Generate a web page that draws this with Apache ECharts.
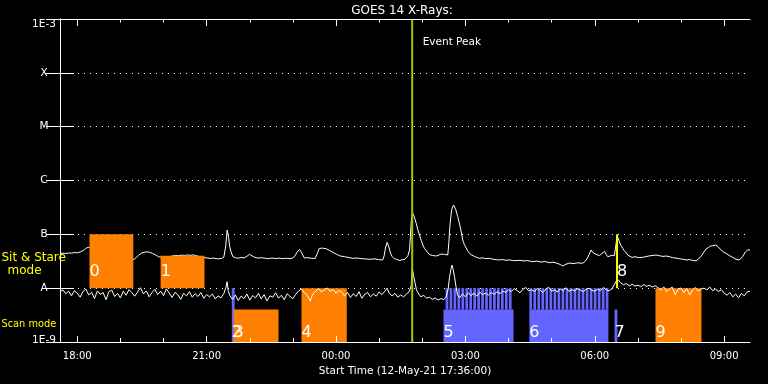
<!DOCTYPE html>
<html><head><meta charset="utf-8">
<script src="https://cdn.jsdelivr.net/npm/echarts@6/dist/echarts.min.js"></script>
<style>html,body{margin:0;padding:0;background:#000;}#c{width:768px;height:384px;}</style>
</head><body><div id="c"></div>
<script>
// ================= DATA =================
const chartTitle = 'GOES 14 X-Rays:';
const xAxisName = 'Start Time (12-May-21 17:36:00)';
const xMax = 960; // minutes after start time
const xMajorTicks = [24, 204, 384, 564, 744, 924];
const xTickLabels = ['18:00', '21:00', '00:00', '03:00', '06:00', '09:00'];
const xMinorTicks = [24, 84, 144, 204, 264, 324, 384, 444, 504, 564, 624, 684, 744, 804, 864, 924];
const yTickLabels = ['1E-9', 'A', 'B', 'C', 'M', 'X', '1E-3'];
const sitStareText = ['Sit & Stare', 'mode'];
const scanModeText = 'Scan mode';

// long channel flux, [minutes after start, flux in 1e-9 W/m^2]
const longFlux = [[0,43.5],[4,44.8],[8,43.9],[12,45.2],[16,44.6],[20,46.0],[24,45.3],[28,47.1],[31,49],[34,52],[37,56],[40,57.5],[43,56.5],[47,51],[52,47],[58,43.5],[64,41],[70,39.5],[78,38.2],[86,36.5],[94,35.8],[100,34.6],[103,34.4],[106,37],[109,40.5],[113,44.5],[117,46.5],[121,47.2],[125,46.4],[129,44],[133,41.5],[137,38.5],[141,37.2],[145,38],[149,37.4],[153,38.6],[157,39.8],[161,40.6],[165,40.1],[169,41.2],[173,40.4],[177,41.3],[181,40.7],[185,41.5],[189,40.2],[193,39],[197,38],[201,37],[205,36.3],[209,35.7],[213,36.2],[217,35.4],[221,35.1],[225,35.8],[228,38],[230.5,60],[232.5,120],[234.5,88],[236,60],[238,47],[240.5,38.5],[244,36.8],[248,36],[252,37.2],[256,36.4],[260,39],[263.5,42.6],[267,40],[270.7,37.6],[275,36.2],[280,36.9],[285,36],[290,35.4],[295,36.3],[300,35.5],[305,36.1],[310,35.3],[315,36],[320,35.2],[324,36.4],[327,40],[330,47],[333.3,52.5],[336,46],[340,36.4],[345,36.8],[350,35.9],[355,35.5],[358,44],[360.5,54.5],[365,55.5],[370.4,54],[375,50],[380,46],[384.3,43],[390,39.5],[396,38.5],[402,37],[407.4,35.9],[413,36.3],[419,35.4],[425,34.9],[431,34.4],[437,35],[443,34],[449,33.4],[451,40],[453,58],[455.2,71],[457.5,58],[460,44],[462,39],[465,35.5],[468,34.4],[472,32.8],[476,33.6],[480,34.5],[482,36],[484,40],[486.3,51],[487.5,90],[488.5,160],[490,252],[492,230],[494,190],[495.6,160],[498,120],[500.2,97],[502.5,78],[504.8,63.4],[507,55],[509.9,49],[512,45],[514.1,42],[518,40.5],[523.4,39.6],[527,41],[530,43],[532.6,44.4],[535,42.5],[537,41],[539.5,41.3],[541,70],[542,120],[543.5,200],[545,290],[547.5,351],[550.2,300],[553.4,213],[557.2,131],[560.4,78.5],[562.5,65],[565.1,56],[567,50],[569.7,44.4],[573,41],[576.7,38.8],[580,37.2],[583.6,35.9],[588,36.6],[592,35.4],[597.5,35.9],[602,34.6],[607,33.8],[611.4,33.4],[616,34],[620,32.9],[625,33.5],[630,32.6],[634.6,32.4],[640,33],[645,32],[650,32.6],[657.7,31],[663,31.8],[669,30.6],[675,31.2],[680.9,29.7],[686,30.4],[691,29.2],[696,27.5],[699.4,25.8],[703,27.5],[708.7,29.3],[714,28.6],[720,29.5],[727.2,29],[731,32],[733.8,36.4],[736,42],[738.9,51.2],[741.5,46],[744.9,43],[747,40],[750.5,40.3],[754,44],[757.5,48.5],[760,42],[762,38.5],[765,39.5],[768,41],[771.4,40.3],[773.4,63.4],[775.1,94],[777,82],[778.3,72],[780.5,62],[782.9,55],[785,50],[788,45],[790,41],[792.2,38.5],[796,37.2],[800,38.4],[805,37],[810.7,37.4],[815,38.5],[820,39.8],[825,40.5],[829.3,41.3],[834,40],[839,38.9],[843,39.6],[847.8,38.5],[852,37],[857,36.2],[862,35.1],[866,34.5],[871,33.4],[876,34],[880,32.8],[884.9,32.2],[888,34.5],[892.3,39.6],[895,45],[898.8,53.4],[902,57],[904.8,60],[908,61.5],[912.7,63.4],[916,58],[919.7,51.2],[923,47],[926.6,44.4],[931,40.5],[935.8,37.4],[940.5,34.4],[945.1,33.4],[947,36],[949.7,38.5],[953.5,47],[956.6,51.2],[960,51.2]];

// short channel flux, [minutes after start, flux in 1e-9 W/m^2]
const shortFlux = [[0,8.6],[4,9.3],[8,7.9],[12,8.8],[16,7.2],[20,9.0],[24,8.1],[28,6.8],[32,8.7],[36,9.6],[40,7.5],[44,8.4],[48,6.4],[52,8.9],[56,7.7],[60,8.3],[64,6.1],[68,8.6],[72,9.2],[76,7.0],[80,8.0],[84,6.6],[88,8.8],[92,7.4],[96,9.4],[100,8.2],[104,7.1],[108,8.5],[112,10.2],[116,7.8],[120,8.9],[124,6.9],[128,8.3],[132,9.5],[136,7.6],[140,8.8],[144,7.3],[148,9.7],[152,8.1],[156,6.7],[160,8.4],[164,7.5],[168,6.2],[172,8.0],[176,7.2],[180,8.6],[184,6.8],[188,7.9],[192,7.0],[196,8.3],[200,6.5],[204,7.6],[208,6.9],[212,7.8],[216,6.3],[220,7.2],[224,6.6],[228,8.0],[231,10.5],[232.5,13.2],[234,9.0],[236,7.4],[240,6.2],[244,7.5],[248,5.9],[252,7.1],[256,6.4],[260,7.8],[264,6.0],[268,7.3],[272,6.6],[276,8.0],[280,6.3],[284,7.6],[288,5.8],[292,7.2],[296,6.8],[300,8.2],[304,6.5],[308,7.4],[312,6.1],[316,7.9],[320,7.0],[324,6.4],[328,7.7],[332,8.9],[336,9.6],[340,8.2],[344,7.4],[348,5.8],[352,7.9],[356,8.8],[360,9.8],[364,8.5],[368,9.3],[372,10.1],[376,8.7],[380,9.5],[384,8.0],[388,9.1],[392,8.4],[396,7.2],[400,8.4],[404,6.7],[408,7.9],[412,7.0],[416,8.6],[420,6.5],[424,7.7],[428,8.3],[432,6.9],[436,7.8],[440,7.1],[444,8.5],[448,7.6],[452,8.8],[455,10.0],[458,8.1],[462,7.2],[466,8.0],[470,6.8],[474,7.5],[478,6.9],[482,7.8],[486,8.6],[488.5,11],[490,23.4],[492,17],[494,12.5],[496,9.3],[499,7.8],[502,6.9],[506,7.4],[510,6.5],[514,6.8],[518,6.2],[522,6.6],[526,6.0],[530,6.4],[534,6.1],[537,6.9],[540,9.5],[542,16.3],[544,23],[545.5,26.9],[547,22],[549,16],[551,10.5],[553,7.5],[556,6.6],[560,7.8],[564,6.9],[568,8.2],[572,7.3],[576,8.0],[580,7.1],[584,8.4],[588,7.6],[592,8.1],[596,7.4],[600,8.3],[604,7.7],[608,8.6],[612,7.9],[616,8.8],[620,8.4],[624,9.3],[628,8.7],[632,9.8],[636,9.0],[640,8.2],[644,9.5],[648,10.3],[652,8.9],[656,9.4],[660,8.6],[664,9.9],[668,9.1],[672,8.3],[676,9.6],[680,10.4],[684,8.8],[688,9.3],[692,8.5],[696,9.7],[700,9.0],[704,10.2],[708,8.7],[712,9.4],[716,8.9],[720,9.8],[724,9.2],[728,8.6],[732,9.5],[736,10.0],[740,9.1],[744,8.8],[748,9.6],[752,9.0],[756,10.3],[760,9.4],[764,8.9],[768,9.8],[771,11.5],[774,13.5],[777,14.2],[780,12.5],[784,11.6],[788,12.2],[792,11.0],[796,11.8],[800,10.9],[804,11.4],[808,10.6],[812,11.7],[816,10.8],[820,11.3],[824,10.5],[828,11.1],[832,10.2],[836,9.3],[840,10.6],[844,8.5],[848,9.8],[852,10.4],[856,7.6],[860,9.6],[864,10.1],[868,8.2],[872,9.9],[876,7.4],[880,9.2],[884,10.3],[888,8.8],[892,9.7],[896,10.0],[900,9.3],[904,10.5],[908,9.0],[912,9.6],[916,8.7],[920,9.4],[924,8.1],[928,7.4],[932,8.3],[936,6.9],[940,7.8],[944,6.6],[948,8.0],[952,7.2],[956,8.5],[960,8.8]];

// observation events: label, start/end (minutes after start), flux band low/high (1e-9 W/m^2), kind
const evLabel = ['0', '1', '2', '3', '4', '5', '6', '7', '8', '9'];
const evStart = [41, 140, 239, 241.5, 336, 533.5, 653, 771.5, 775, 828.5];
const evEnd   = [102, 201, 243, 304, 399, 631, 763, 775.5, 775, 892.5];
const evLow   = [10, 10, 1, 1, 1, 1, 1, 1, 10, 1];
const evHigh  = [100, 40, 10, 4, 10, 4, 4, 4, 100, 10];
const evKind  = ['stare', 'stare', 'scan', 'stare', 'stare', 'scan', 'scan', 'scan', 'mark', 'stare'];

// individual raster steps inside scans 5 and 6 (start minutes), duration, band
const rasterStart = [536.5, 542, 547.5, 553, 558.5, 564, 569.5, 575, 580.5, 586, 591.5, 597, 602.5, 608, 613.5, 619, 624.5,
  653, 658.6, 664.2, 669.8, 675.4, 681, 686.6, 692.2, 697.8, 703.4, 709, 714.6, 720.2, 725.8, 731.4, 737, 742.6, 748.2, 753.8, 759.2];
const rasterDur = 3.8;
const rasterLow = 4, rasterHigh = 10;

const eventPeakTime = 490;
const eventPeakText = 'Event Peak';

// ================= STYLE =================
const F = 1e-9;
const FONT = '"DejaVu Sans", sans-serif';
const kindColor = { stare: '#FF8000', scan: '#6464FF', mark: '#FFFF00' };
const peakColor = '#99CC00';
const labelLevel = { upper: 1.97, lower: 0.149 }; // multiple of band low for label centre

const chart = echarts.init(document.getElementById('c'), null, { renderer: 'canvas' });

const evData = evStart.map((s, i) => [s, evEnd[i], evLow[i] * F, evHigh[i] * F]);
const rasterData = rasterStart.map(s => [s, s + rasterDur, rasterLow * F, rasterHigh * F]);

function rectItem(api, color) {
  const p0 = api.coord([api.value(0), api.value(3)]);
  const p1 = api.coord([api.value(1), api.value(2)]);
  return { type: 'rect', shape: { x: p0[0], y: p0[1], width: p1[0] - p0[0], height: p1[1] - p0[1] }, style: { fill: color } };
}

const xCommon = { type: 'value', min: 0, max: xMax, gridIndex: 0, splitLine: { show: false }, z: 10 };
const white = { color: '#fff', width: 1 };

const option = {
  backgroundColor: '#000',
  animation: false,
  grid: { left: 60, right: 18, top: 19, bottom: 42, containLabel: false },
  xAxis: [
    Object.assign({}, xCommon, {
      position: 'bottom',
      axisLine: { show: true, lineStyle: white },
      axisTick: { show: true, inside: true, length: 6, customValues: xMajorTicks, lineStyle: white },
      axisLabel: { show: true, customValues: xMajorTicks, color: '#fff', fontFamily: FONT, fontSize: 10, margin: 9,
        formatter: v => xTickLabels[xMajorTicks.indexOf(v)] },
      name: xAxisName, nameLocation: 'middle', nameGap: 20,
      nameTextStyle: { color: '#fff', fontFamily: FONT, fontSize: 10.5 }
    }),
    Object.assign({}, xCommon, {
      position: 'bottom', axisLine: { show: false },
      axisTick: { show: true, inside: true, length: 4, customValues: xMinorTicks, lineStyle: white },
      axisLabel: { show: false }
    }),
    Object.assign({}, xCommon, {
      position: 'top', axisLine: { show: true, lineStyle: white },
      axisTick: { show: true, inside: true, length: 7, customValues: xMajorTicks, lineStyle: white },
      axisLabel: { show: false }
    }),
    Object.assign({}, xCommon, {
      position: 'top', axisLine: { show: false },
      axisTick: { show: true, inside: true, length: 3.5, customValues: xMinorTicks, lineStyle: white },
      axisLabel: { show: false }
    })
  ],
  yAxis: [
    {
      type: 'log', logBase: 10, min: 1e-9, max: 1e-3, splitNumber: 6, position: 'left',
      axisLine: { show: true, lineStyle: white },
      axisTick: { show: true, inside: true, length: 14, lineStyle: white },
      minorTick: { show: false },
      splitLine: { show: true, lineStyle: { color: '#fff', width: 1, type: [1, 5] } },
      axisLabel: {
        color: '#fff', fontFamily: FONT, fontSize: 10.5, margin: 16, align: 'center',
        formatter: v => {
          const k = Math.round(Math.log10(v)) + 9;
          const t = yTickLabels[k];
          if (k === 0) return '{b|' + t + '}';
          if (k === 6) return '{t|' + t + '}';
          return t;
        },
        rich: {
          t: { color: '#fff', fontFamily: FONT, fontSize: 10.5, padding: [11, 0, 0, 0] },
          b: { color: '#fff', fontFamily: FONT, fontSize: 10.5, padding: [0, 0, 3, 0] }
        }
      }
    },
    {
      type: 'log', logBase: 10, min: 1e-9, max: 1e-3, splitNumber: 6, position: 'right',
      axisLine: { show: true, lineStyle: white },
      axisTick: { show: true, inside: true, length: 14, lineStyle: white },
      splitLine: { show: false }, axisLabel: { show: false }
    }
  ],
  graphic: [
    { type: 'text', x: 402, y: 10.5, z: 100, style: { text: chartTitle, fill: '#fff', font: '12px ' + FONT, align: 'center', verticalAlign: 'middle' } },
    { type: 'text', x: 1.5, y: 258, z: 100, style: { text: sitStareText[0], fill: '#FFFF00', font: '12px ' + FONT, align: 'left', verticalAlign: 'middle' } },
    { type: 'text', x: 24.5, y: 271, z: 100, style: { text: sitStareText[1], fill: '#FFFF00', font: '12px ' + FONT, align: 'center', verticalAlign: 'middle' } },
    { type: 'text', x: 1.5, y: 324, z: 100, style: { text: scanModeText, fill: '#FFFF00', font: '9.8px ' + FONT, align: 'left', verticalAlign: 'middle' } }
  ],
  series: [
    {
      name: 'long', type: 'line', data: longFlux.map(p => [p[0], p[1] * F]), z: 1,
      showSymbol: false, symbol: 'none', lineStyle: { color: '#fff', width: 1 }, silent: true
    },
    {
      name: 'events', type: 'custom', z: 2, silent: true, data: evData, encode: { x: [0, 1], y: [2, 3] },
      renderItem: (params, api) => {
        const kind = evKind[params.dataIndex];
        if (kind === 'mark') {
          const p0 = api.coord([api.value(0), api.value(3)]);
          const p1 = api.coord([api.value(0), api.value(2)]);
          return { type: 'line', shape: { x1: p0[0], y1: p0[1], x2: p1[0], y2: p1[1] }, style: { stroke: kindColor.mark, lineWidth: 2 } };
        }
        return rectItem(api, kindColor[kind]);
      }
    },
    {
      name: 'rasters', type: 'custom', z: 2, silent: true, data: rasterData, encode: { x: [0, 1], y: [2, 3] },
      renderItem: (params, api) => rectItem(api, kindColor.scan)
    },
    {
      name: 'short', type: 'line', data: shortFlux.map(p => [p[0], p[1] * F]), z: 3,
      showSymbol: false, symbol: 'none', lineStyle: { color: '#fff', width: 1 }, silent: true
    },
    {
      name: 'labels', type: 'custom', z: 4, silent: true, data: evData, encode: { x: 0, y: 2 },
      renderItem: (params, api) => {
        const lo = api.value(2);
        const lvl = lo >= 10 * F ? lo * labelLevel.upper : lo * 10 * labelLevel.lower;
        const p = api.coord([api.value(0), lvl]);
        return { type: 'text', x: p[0], y: p[1], style: { text: evLabel[params.dataIndex], fill: '#fff', font: '16px ' + FONT, align: 'left', verticalAlign: 'middle' } };
      }
    },
    {
      name: 'peak', type: 'custom', z: 5, silent: true, data: [[eventPeakTime, 1e-3, 1e-9]], encode: { x: 0, y: [1, 2] },
      renderItem: (params, api) => {
        const p0 = api.coord([api.value(0), api.value(1)]);
        const p1 = api.coord([api.value(0), api.value(2)]);
        return { type: 'group', children: [
          { type: 'line', shape: { x1: p0[0], y1: p0[1], x2: p1[0], y2: p1[1] }, style: { stroke: peakColor, lineWidth: 2 } },
          { type: 'text', x: p0[0] + 10.5, y: p0[1] + 23.5, style: { text: eventPeakText, fill: '#fff', font: '10.5px ' + FONT, align: 'left', verticalAlign: 'middle' } }
        ] };
      }
    }
  ]
};
chart.setOption(option);
</script></body></html>
